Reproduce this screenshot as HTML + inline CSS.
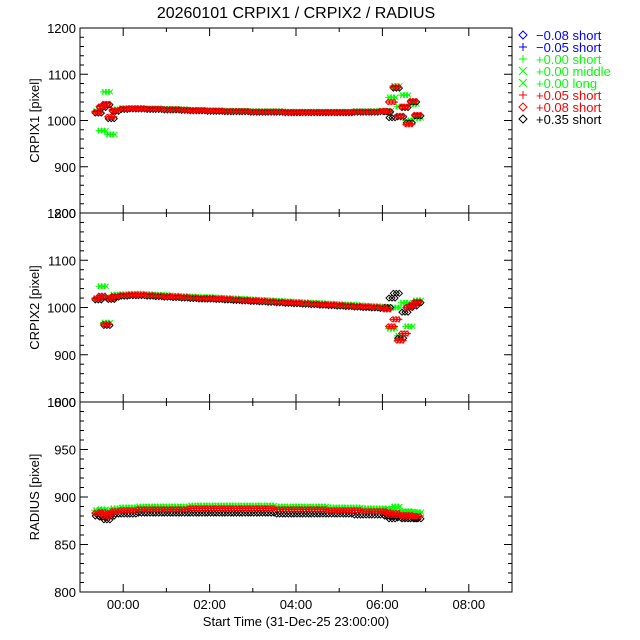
<!DOCTYPE html>
<html><head><meta charset="utf-8"><style>
html,body{margin:0;padding:0;background:#fff;}
svg{display:block;font-family:"Liberation Sans",sans-serif;}
</style></head><body>
<svg id="chart" width="640" height="640" viewBox="0 0 640 640">
<text x="296" y="18" font-size="16" text-anchor="middle">20260101 CRPIX1 / CRPIX2 / RADIUS</text>
<g id="panels"></g>
<g id="legend"></g>
<text x="296" y="626" font-size="13" text-anchor="middle">Start Time (31-Dec-25 23:00:00)</text>
</svg>
<script>
const times = [-0.6,-0.5,-0.4,-0.3,-0.2,0,0.2,0.4,0.6,0.8,1.0,1.2,1.4,1.6,1.8,2.0,2.2,2.4,2.6,2.8,3.0,3.2,3.4,3.6,3.8,4.0,4.2,4.4,4.6,4.8,5.0,5.2,5.4,5.6,5.8,6.0,6.1,6.2,6.3,6.4,6.5,6.6,6.7,6.8];
const crpix1Green = [1020,978,1062,970,1024,1027,1027,1027,1026,1026,1025,1025,1024,1023,1023,1022,1022,1021,1021,1021,1020,1020,1020,1020,1019,1019,1019,1019,1019,1019,1019,1019,1020,1020,1020,1021,1021,1050,1075,1030,1055,1000,1035,1005];
const crpix1Red = [1018,1030,1036,1008,1022,1025,1026,1026,1025,1025,1024,1024,1023,1022,1022,1021,1021,1020,1020,1020,1019,1019,1019,1019,1018,1018,1018,1018,1018,1018,1018,1018,1019,1019,1019,1020,1020,1040,1072,1010,1030,992,1042,1012];
const crpix1Black = [1016,1028,1034,1004,1020,1024,1025,1025,1024,1024,1023,1023,1022,1021,1021,1020,1020,1019,1019,1019,1018,1018,1018,1018,1017,1017,1017,1017,1017,1017,1017,1017,1018,1018,1018,1019,1019,1006,1070,1008,1028,995,1040,1010];
const crpix2Green = [1020,1045,968,1018,1027,1028,1029,1029,1028,1027,1026,1025,1024,1023,1022,1022,1021,1020,1019,1018,1017,1016,1015,1014,1013,1012,1011,1010,1009,1008,1007,1006,1005,1004,1003,1002,998,955,1000,940,1010,960,1008,1015];
const crpix2Red = [1018,1025,965,1020,1024,1026,1027,1027,1026,1025,1024,1023,1022,1021,1020,1020,1019,1018,1017,1016,1015,1014,1013,1012,1011,1010,1009,1008,1007,1006,1005,1004,1003,1002,1001,1000,996,960,975,930,945,1000,1005,1012];
const crpix2Black = [1016,1022,962,1017,1022,1024,1025,1025,1024,1023,1022,1021,1020,1019,1018,1018,1017,1016,1015,1014,1013,1012,1011,1010,1009,1008,1007,1006,1005,1004,1003,1002,1001,1000,999,998,1000,1020,1030,935,990,1000,1003,1010];
const radiusGreen = [886,887,884,886,888,889,889,890,890,890,890,890,890,891,891,891,891,891,891,891,891,891,891,890,890,890,890,890,890,889,889,889,889,888,888,888,887,886,890,885,884,885,884,884];
const radiusRed = [883,884,880,883,885,886,886,887,887,887,887,887,887,888,888,888,888,888,888,888,888,888,888,887,887,887,887,887,887,886,886,886,886,885,885,885,884,881,883,881,880,881,880,880];
const radiusBlack = [880,879,876,880,882,882,882,883,883,883,883,883,883,883,883,883,883,883,883,883,883,883,883,882,882,882,882,882,882,882,882,882,881,881,881,881,880,877,880,878,877,878,877,877];
const xTickLabels = ["00:00","02:00","04:00","06:00","08:00"];
const xTickHours = [0,2,4,6,8];
const legendLabels = ["\u22120.08 short","\u22120.05 short","+0.00 short","+0.00 middle","+0.00 long","+0.05 short","+0.08 short","+0.35 short"];
const legendColors = ["#0000ff","#0000ff","#00ff00","#00ff00","#00ff00","#ff0000","#ff0000","#000000"];
const legendSymbols = ["diamond","plus","plus","cross","cross","plus","diamond","diamond"];

const NS="http://www.w3.org/2000/svg";
const X0=80,X1=512,TMIN=-1,TMAX=9;
function xs(t){return X0+(t-TMIN)/(TMAX-TMIN)*(X1-X0);}
function mk(tag,attrs,parent){const e=document.createElementNS(NS,tag);for(const k in attrs)e.setAttribute(k,attrs[k]);parent.appendChild(e);return e;}
function marker(g,type,x,y,c,s){
  let d;
  if(type==="plus")d=`M${x-s},${y}H${x+s}M${x},${y-s}V${y+s}`;
  else if(type==="cross")d=`M${x-s},${y-s}L${x+s},${y+s}M${x-s},${y+s}L${x+s},${y-s}`;
  else d=`M${x},${y-s}L${x+s},${y}L${x},${y+s}L${x-s},${y}Z`;
  return mk("path",{d:d,stroke:c,fill:"none","stroke-width":1},g);
}
const panels=[
 {name:"crpix1",top:28,bot:213,min:800,max:1200,major:100,minor:20,label:"CRPIX1 [pixel]",g:crpix1Green,r:crpix1Red,b:crpix1Black,xl:false},
 {name:"crpix2",top:213,bot:402,min:800,max:1200,major:100,minor:20,label:"CRPIX2 [pixel]",g:crpix2Green,r:crpix2Red,b:crpix2Black,xl:false},
 {name:"radius",top:402,bot:592,min:800,max:1000,major:50,minor:10,label:"RADIUS [pixel]",g:radiusGreen,r:radiusRed,b:radiusBlack,xl:true}
];
const spread=[-3,0,3];
const root=document.getElementById("panels");
panels.forEach(p=>{
  const g=mk("g",{},root);
  
  
  const ys=v=>p.bot-(v-p.min)/(p.max-p.min)*(p.bot-p.top);
  const frame=mk("rect",{x:X0,y:p.top,width:X1-X0,height:p.bot-p.top,fill:"none",stroke:"#000","stroke-width":1},g);
  
  
  for(let v=p.min;v<=p.max+1e-6;v+=p.minor){
    const y=ys(v);const isM=Math.abs((v-p.min)%p.major)<1e-6;const L=isM?8:4;
    mk("line",{x1:X0,x2:X0+L,y1:y,y2:y,stroke:"#000"},g);
    mk("line",{x1:X1,x2:X1-L,y1:y,y2:y,stroke:"#000"},g);
    if(isM){const t=mk("text",{x:X0-4,y:y+5,"font-size":13,"text-anchor":"end"},g);t.textContent=v;
      
      }
  }
  for(let h=0;h<=8;h++){
    const x=xs(h);const L=(h%2===0)?8:4;
    mk("line",{x1:x,x2:x,y1:p.bot,y2:p.bot-L,stroke:"#000"},g);
    mk("line",{x1:x,x2:x,y1:p.top,y2:p.top+L,stroke:"#000"},g);
  }
  if(p.xl){xTickHours.forEach((h,i)=>{const t=mk("text",{x:xs(h),y:p.bot+17,"font-size":13,"text-anchor":"middle"},g);t.textContent=xTickLabels[i];
    
    });}
  const yl=mk("text",{x:0,y:0,"font-size":13,"text-anchor":"middle",transform:`translate(39,${(p.top+p.bot)/2}) rotate(-90)`},g);
  yl.textContent=p.label;
  
  
  const sg=mk("g",{},g);
  
  
  const layer=(arr,type,col,s,dx)=>times.forEach((t,i)=>{spread.forEach(o=>marker(sg,type,xs(t)+o+dx,ys(arr[i]),col,s));});
  layer(p.g,"plus","#00ff00",3,0);
  layer(p.g,"cross","#00ff00",2.5,1.5);
  layer(p.b,"diamond","#000",3,1);
  layer(p.r,"plus","#ff0000",3,1);
  layer(p.r,"diamond","#ff0000",2.5,0);
});
const lg=document.getElementById("legend");
legendLabels.forEach((lab,i)=>{
  const y=35+i*12;
  const gi=mk("g",{},lg);
  
  
  marker(gi,legendSymbols[i],523,y,legendColors[i],4);
  const t=mk("text",{x:536,y:y+5,"font-size":13,fill:legendColors[i]},gi);
  t.textContent=lab;
});
</script>
</body></html>
